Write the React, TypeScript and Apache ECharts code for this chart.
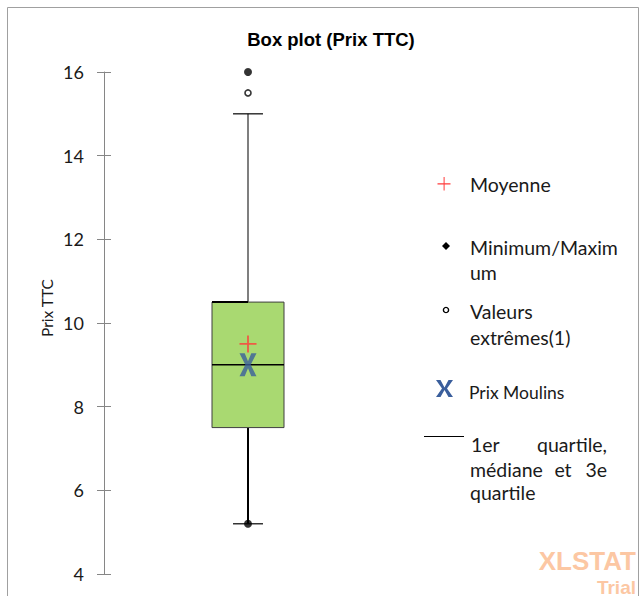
import React, { useEffect, useRef } from "react";
import * as echarts from "echarts";

const categories = ["Prix TTC"];
// [min whisker, Q1, median, Q3, max whisker]
const boxStats = [[5.2, 7.5, 9, 10.5, 15]];
const minMaxPoints = [16, 5.2];
const outlierPoints = [15.5];
const meanValues = [9.5];
const moulinsValues = [9];
const yMin = 4;
const yMax = 16;
const yInterval = 2;

const PLUS_PATH = "path://M7.6,0H9.4V7.6H17V9.4H9.4V17H7.6V9.4H0V7.6H7.6Z";
const X_PATH = "path://M0,0H5.2L8.5,8L11.8,0H17L11.2,11.5L17,23H11.8L8.5,15L5.2,23H0L5.8,11.5Z";

export default function App() {
  const ref = useRef<HTMLDivElement>(null);
  useEffect(() => {
    if (!ref.current) return;
    const chart = echarts.init(ref.current, null, { renderer: "svg" });
    const labelFont = "Lato, 'Open Sans', sans-serif";
    const legendText = (text: string, x: number, y: number, align = "left") => ({
      type: "text",
      x,
      y,
      style: { text, fill: "#1a1a1a", font: `19.5px ${labelFont}`, align, verticalAlign: "middle" },
    });
    chart.setOption({
      animation: false,
      title: {
        text: "Box plot (Prix TTC)",
        left: 326,
        textAlign: "center",
        top: 25,
        textStyle: { fontFamily: "'Liberation Sans', Arial, sans-serif", fontSize: 18.5, fontWeight: "bold", color: "#000" },
      },
      grid: { left: 104, top: 72, width: 288, height: 502 },
      xAxis: {
        type: "category",
        data: categories,
        show: false,
      },
      yAxis: [
        {
          type: "value",
          min: yMin,
          max: yMax,
          interval: yInterval,
          axisLine: { show: true, lineStyle: { color: "#868686", width: 1 } },
          axisTick: { show: true, length: 7, lineStyle: { color: "#868686" } },
          axisLabel: { fontFamily: labelFont, fontSize: 18, color: "#1a1a1a", margin: 20 },
          splitLine: { show: false },
        },
        {
          type: "value",
          min: yMin,
          max: yMax,
          interval: yInterval,
          position: "left",
          axisLine: { show: false },
          axisTick: { show: true, inside: true, length: 7, lineStyle: { color: "#868686" } },
          axisLabel: { show: false },
          splitLine: { show: false },
        },
      ],
      graphic: [
        {
          type: "rect",
          shape: { x: 7.5, y: 7.5, width: 631, height: 600 },
          style: { fill: "none", stroke: "#a0a0a0", lineWidth: 1 },
          silent: true,
        },
        {
          type: "text",
          x: 47,
          y: 308,
          rotation: Math.PI / 2,
          style: { text: "Prix TTC", fill: "#1a1a1a", font: `15.5px ${labelFont}`, align: "center", verticalAlign: "middle" },
        },
        // legend
        {
          type: "polygon",
          shape: { points: [[437.5, 183.2], [443.6, 183.2], [443.6, 177], [444.6, 177], [444.6, 183.2], [450.5, 183.2], [450.5, 184.4], [444.6, 184.4], [444.6, 190.5], [443.6, 190.5], [443.6, 184.4], [437.5, 184.4]] },
          style: { fill: "#ff3b3b" },
        },
        legendText("Moyenne", 470, 184),
        {
          type: "polygon",
          shape: { points: [[446, 242], [450, 246], [446, 250], [442, 246]] },
          style: { fill: "#000" },
        },
        legendText("Minimum/Maxim", 470, 247),
        legendText("um", 470, 272),
        {
          type: "circle",
          shape: { cx: 446, cy: 310, r: 2.6 },
          style: { fill: "#fff", stroke: "#000", lineWidth: 1.4 },
        },
        legendText("Valeurs", 470, 311),
        legendText("extrêmes(1)", 470, 337),
        {
          type: "polygon",
          shape: {
            points: [[436, 380], [440.5, 380], [444.5, 387.5], [448.5, 380], [453, 380], [447, 388.5], [453, 397], [448.5, 397], [444.5, 390], [440.5, 397], [436, 397], [442, 388.5]],
          },
          style: { fill: "#3a5e9c" },
        },
        {
          type: "text",
          x: 469,
          y: 392,
          style: { text: "Prix Moulins", fill: "#1a1a1a", font: `17.5px ${labelFont}`, align: "left", verticalAlign: "middle" },
        },
        {
          type: "line",
          shape: { x1: 424, y1: 436.5, x2: 464, y2: 436.5 },
          style: { stroke: "#000", lineWidth: 1 },
        },
        legendText("1er", 471, 444),
        legendText("quartile,", 607, 444, "right"),
        legendText("médiane", 470, 469),
        legendText("et", 563, 469, "center"),
        legendText("3e", 607, 469, "right"),
        legendText("quartile", 470, 492),
        // watermark
        {
          type: "text",
          x: 636,
          y: 561,
          style: { text: "XLSTAT", fill: "#fcc7a3", font: `bold 26px 'Liberation Sans', Arial, sans-serif`, align: "right", verticalAlign: "middle" },
        },
        {
          type: "text",
          x: 636,
          y: 587,
          style: { text: "Trial", fill: "#fcc7a3", font: `bold 19px 'Liberation Sans', Arial, sans-serif`, align: "right", verticalAlign: "middle" },
        },
      ],
      series: [
        {
          type: "custom",
          z: 2,
          data: boxStats.map((s, i) => [i, ...s]),
          encode: { x: 0, y: [1, 2, 3, 4, 5] },
          renderItem: (params: any, api: any) => {
            const i = api.value(0);
            const ys = [1, 2, 3, 4, 5].map((k) => api.coord([i, api.value(k)])[1]);
            const cx = api.coord([i, api.value(1)])[0];
            const band = api.size([1, 0])[0];
            const bw = band * 0.25;
            const cw = band * 0.104;
            const [pMin, pQ1, pMed, pQ3, pMax] = ys;
            return {
              type: "group",
              children: [
                { type: "line", shape: { x1: cx, y1: pQ3, x2: cx, y2: pMax }, style: { stroke: "#7f7f7f", lineWidth: 2 } },
                { type: "line", shape: { x1: cx - cw / 2, y1: pMax, x2: cx + cw / 2, y2: pMax }, style: { stroke: "#000", lineWidth: 1.2 } },
                { type: "line", shape: { x1: cx, y1: pQ1, x2: cx, y2: pMin }, style: { stroke: "#000", lineWidth: 2 } },
                { type: "line", shape: { x1: cx - cw / 2, y1: pMin, x2: cx + cw / 2, y2: pMin }, style: { stroke: "#000", lineWidth: 1.2 } },
                {
                  type: "rect",
                  shape: { x: cx - bw / 2, y: pQ3, width: bw, height: pQ1 - pQ3 },
                  style: { fill: "#a9d971", stroke: "#3f3f3f", lineWidth: 1 },
                },
                { type: "line", shape: { x1: cx - bw / 2, y1: pQ3, x2: cx, y2: pQ3 }, style: { stroke: "#000", lineWidth: 2 } },
                { type: "line", shape: { x1: cx - bw / 2, y1: pMed, x2: cx + bw / 2, y2: pMed }, style: { stroke: "#000", lineWidth: 1.5 } },
              ],
            };
          },
        },
        {
          type: "scatter",
          z: 3,
          symbol: "circle",
          symbolSize: 8,
          itemStyle: { color: "#000" },
          data: minMaxPoints.map((v) => [0, v]),
        },
        {
          type: "scatter",
          z: 3,
          symbol: "circle",
          symbolSize: 6,
          itemStyle: { color: "#fff", borderColor: "#000", borderWidth: 1.6 },
          data: outlierPoints.map((v) => [0, v]),
        },
        {
          type: "scatter",
          z: 4,
          symbol: PLUS_PATH,
          symbolSize: 17,
          itemStyle: { color: "#ff3b3b" },
          data: meanValues.map((v) => [0, v]),
        },
        {
          type: "scatter",
          z: 5,
          symbol: X_PATH,
          symbolKeepAspect: false,
          symbolSize: [17, 23],
          itemStyle: { color: "#3a5e9c" },
          data: moulinsValues.map((v) => [0, v]),
        },
      ],
    });
    return () => chart.dispose();
  }, []);
  return <div ref={ref} style={{ position: "fixed", left: 0, top: 0, width: 642, height: 596, background: "#fff" }} />;
}
